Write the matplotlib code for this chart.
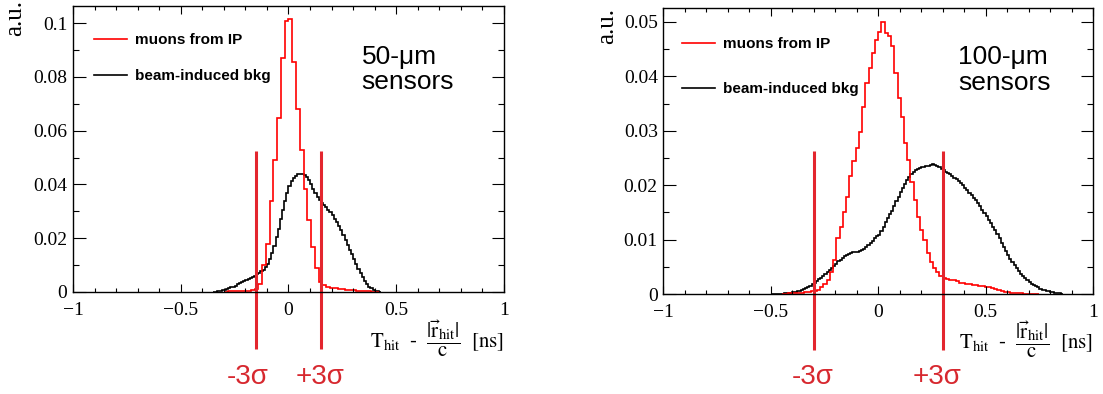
import numpy as np
import matplotlib
matplotlib.use("Agg")
import matplotlib.pyplot as plt
from matplotlib.lines import Line2D
from matplotlib.ticker import MultipleLocator

plt.rcParams["font.family"] = ["Liberation Serif", "DejaVu Serif"]
plt.rcParams["mathtext.fontset"] = "stix"

# ---- 50 um sensors ----
red50_start, red50_width = -0.2975, 0.0175
red50 = [0.0001, 0.0002, 0.0002, 0.0003, 0.0003, 0.0004, 0.0005, 0.0007, 0.0012, 0.0030,
         0.0100, 0.0180, 0.0340, 0.0490, 0.0648, 0.0870, 0.1010, 0.1014, 0.0855, 0.0680,
         0.0530, 0.0385, 0.0267, 0.0167, 0.0088, 0.0037, 0.0025, 0.0020, 0.0016, 0.0013,
         0.0011, 0.0010, 0.0008, 0.0007, 0.0006, 0.0005, 0.0004, 0.0003, 0.0002, 0.0001,
         0.0001]

blk50_start, blk50_width = -0.35, 0.01
blk50 = [0.0, 0.0001, 0.0002, 0.0004, 0.0006, 0.0008, 0.0011, 0.0014, 0.0017, 0.0020,
         0.0024, 0.0028, 0.0033, 0.0038, 0.0042, 0.0046, 0.0050, 0.0053, 0.0057, 0.0061,
         0.0066, 0.0071, 0.0077, 0.0083, 0.0093, 0.0105, 0.0122, 0.0145, 0.0172, 0.0203,
         0.0236, 0.0272, 0.0305, 0.0340, 0.0368, 0.0393, 0.0413, 0.0425, 0.0433, 0.0438,
         0.0440, 0.0440, 0.0437, 0.0428, 0.0415, 0.0400, 0.0385, 0.0370, 0.0355, 0.0342,
         0.0332, 0.0324, 0.0316, 0.0306, 0.0296, 0.0286, 0.0273, 0.0259, 0.0245, 0.0229,
         0.0212, 0.0194, 0.0176, 0.0158, 0.0140, 0.0122, 0.0104, 0.0087, 0.0070, 0.0055,
         0.0041, 0.0030, 0.0020, 0.0013, 0.0008, 0.0004, 0.0002, 0.0]

# ---- 100 um sensors ----
red100_start, red100_width = -0.45, 0.015
red100 = [0.0, 0.0, 0.0001, 0.0001, 0.0001, 0.0002, 0.0002, 0.0003, 0.0004, 0.0005,
          0.0006, 0.0008, 0.0012, 0.0018, 0.0026, 0.0040, 0.0062, 0.0103, 0.0124, 0.0150,
          0.0178, 0.0216, 0.0245, 0.0268, 0.0298, 0.0344, 0.0387, 0.0415, 0.0442, 0.0467,
          0.0482, 0.0500, 0.0479, 0.0474, 0.0455, 0.0406, 0.0360, 0.0326, 0.0277, 0.0246,
          0.0206, 0.0173, 0.0142, 0.0118, 0.0099, 0.0075, 0.0059, 0.0047, 0.0040, 0.0034,
          0.0030, 0.0028, 0.0026, 0.0025, 0.0023, 0.0021, 0.0020, 0.0019, 0.0018, 0.0017,
          0.0016, 0.0015, 0.0014, 0.0013, 0.0012, 0.0011, 0.0010, 0.0007, 0.0005, 0.0004,
          0.0003, 0.0002, 0.0001, 0.0001, 0.0001, 0.0, 0.0, 0.0, 0.0, 0.0]

blk100_start, blk100_width = -0.50, 0.01
blk100 = [0.0, 0.0, 0.0, 0.0, 0.00005, 0.00005, 0.0001, 0.0001, 0.0001, 0.0002,
          0.0003, 0.0004, 0.0005, 0.0006, 0.0007, 0.0009, 0.0011, 0.0013, 0.0015, 0.0018,
          0.0021, 0.0024, 0.0027, 0.0030, 0.0033, 0.0036, 0.0040, 0.0044, 0.0048, 0.0052,
          0.0056, 0.0060, 0.0063, 0.0066, 0.0069, 0.0072, 0.0074, 0.0076, 0.0077, 0.0078,
          0.0078, 0.0079, 0.0081, 0.0083, 0.0086, 0.0090, 0.0094, 0.0098, 0.0102, 0.0106,
          0.0108, 0.0115, 0.0123, 0.0132, 0.0140, 0.0147, 0.0153, 0.0161, 0.0170, 0.0179,
          0.0187, 0.0195, 0.0203, 0.0209, 0.0215, 0.0220, 0.0224, 0.0227, 0.0230, 0.0232,
          0.0233, 0.0234, 0.0235, 0.0236, 0.0237, 0.0238, 0.0237, 0.0236, 0.0233, 0.0230,
          0.0227, 0.0224, 0.0222, 0.0220, 0.0217, 0.0214, 0.0212, 0.0208, 0.0204, 0.0200,
          0.0195, 0.0191, 0.0186, 0.0182, 0.0177, 0.0172, 0.0167, 0.0161, 0.0155, 0.0149,
          0.0143, 0.0136, 0.0130, 0.0124, 0.0117, 0.0110, 0.0102, 0.0094, 0.0086, 0.0079,
          0.0072, 0.0065, 0.0059, 0.0053, 0.0047, 0.0042, 0.0037, 0.0033, 0.0029, 0.0025,
          0.0022, 0.0019, 0.0016, 0.0014, 0.0012, 0.0010, 0.0008, 0.0007, 0.0006, 0.0005,
          0.0004, 0.0003, 0.0002, 0.0001, 0.0001, 0.0]

sigma50 = 0.15
sigma100 = 0.30
legend_labels = ["muons from IP", "beam-induced bkg"]
sensor_labels = ["50-\u03bcm\nsensors", "100-\u03bcm\nsensors"]
xtick_vals = [-1, -0.5, 0, 0.5, 1]
xtick_labels = ["\u22121", "\u22120.5", "0", "0.5", "1"]
ytick50 = [0, 0.02, 0.04, 0.06, 0.08, 0.1]
ytick50_labels = ["0", "0.02", "0.04", "0.06", "0.08", "0.1"]
ytick100 = [0, 0.01, 0.02, 0.03, 0.04, 0.05]
ytick100_labels = ["0", "0.01", "0.02", "0.03", "0.04", "0.05"]

SIG_LINE = "#e3262e"
SIG_TEXT = "#d7282f"
xlabel = (r"$\mathrm{T_{hit}}\ \ \text{-}\ \ \dfrac{|\vec{\mathrm{r}}_{\mathrm{hit}}|}{\mathrm{c}}"
          r"\ \ [\mathrm{ns}]$")

fig = plt.figure(figsize=(11.03, 3.94), dpi=100)

panels = [
    dict(rect=[0.0662, 0.2589, 0.3907, 0.7259], ylim=0.1064,
         red=(red50_start, red50_width, red50), blk=(blk50_start, blk50_width, blk50),
         yt=ytick50, ytl=ytick50_labels, yminor=0.01, sig=sigma50, sig_y=(0.0524, -0.0213),
         leg_xy=(0.049, 0.905), leg_sp=1.42, text_xy=(0.67, 0.865), label=sensor_labels[0],
         sig_text_x=(0.2248, 0.290), xlab_y=-0.165, au_x=-0.135, au_y=1.02),
    dict(rect=[0.6014, 0.2538, 0.3896, 0.7251], ylim=0.0525,
         red=(red100_start, red100_width, red100), blk=(blk100_start, blk100_width, blk100),
         yt=ytick100, ytl=ytick100_labels, yminor=0.005, sig=sigma100, sig_y=(0.0263, -0.0102),
         leg_xy=(0.0435, 0.898), leg_sp=2.02, text_xy=(0.686, 0.87), label=sensor_labels[1],
         sig_text_x=(0.737, 0.8495), xlab_y=-0.16, au_x=-0.131, au_y=1.0),
]

for p in panels:
    ax = fig.add_axes(p["rect"])
    s, w, v = p["blk"]
    ax.stairs(v, s + w * np.arange(len(v) + 1), color="black", lw=1.2, baseline=0)
    s, w, v = p["red"]
    ax.stairs(v, s + w * np.arange(len(v) + 1), color="red", lw=1.2, baseline=0)

    ax.set_xlim(-1, 1)
    ax.set_ylim(0, p["ylim"])
    ax.set_xticks(xtick_vals, xtick_labels)
    ax.set_yticks(p["yt"], p["ytl"])
    ax.xaxis.set_minor_locator(MultipleLocator(0.1))
    ax.yaxis.set_minor_locator(MultipleLocator(p["yminor"]))
    ax.tick_params(which="both", direction="in", top=True, right=True, width=0.8,
                   labelsize=14)
    ax.tick_params(axis="x", which="major", length=6, pad=7)
    ax.tick_params(axis="x", which="minor", length=3)
    ax.tick_params(axis="y", which="major", length=9, pad=4)
    ax.tick_params(axis="y", which="minor", length=4.5)
    for sp in ax.spines.values():
        sp.set_linewidth(1.0)

    ax.text(p["au_x"], p["au_y"], "a.u.", rotation=90, ha="center", va="top",
            fontsize=18, transform=ax.transAxes)
    ax.text(1.0, p["xlab_y"], xlabel, ha="right", va="center", fontsize=15,
            transform=ax.transAxes)

    handles = [Line2D([], [], color="red", lw=1.2), Line2D([], [], color="black", lw=1.2)]
    ax.legend(handles, legend_labels, loc="upper left", bbox_to_anchor=p["leg_xy"],
              frameon=False, prop={"family": "Liberation Sans", "weight": "bold", "size": 11},
              handlelength=2.15, handletextpad=0.5, labelspacing=p["leg_sp"],
              borderaxespad=0, borderpad=0)

    ax.text(p["text_xy"][0], p["text_xy"][1], p["label"], ha="left", va="top",
            fontsize=19, family="Liberation Sans", linespacing=1.1, transform=ax.transAxes)

    for sx in (-p["sig"], p["sig"]):
        ax.plot([sx, sx], list(p["sig_y"]), color=SIG_LINE, lw=2.2, clip_on=False,
                solid_capstyle="butt")
    fig.text(p["sig_text_x"][0], 0.043, "-3\u03c3", color=SIG_TEXT, fontsize=20,
             family="Liberation Sans", ha="center", va="center")
    fig.text(p["sig_text_x"][1], 0.043, "+3\u03c3", color=SIG_TEXT, fontsize=20,
             family="Liberation Sans", ha="center", va="center")

fig.savefig("out.png", dpi=100, facecolor="white")
